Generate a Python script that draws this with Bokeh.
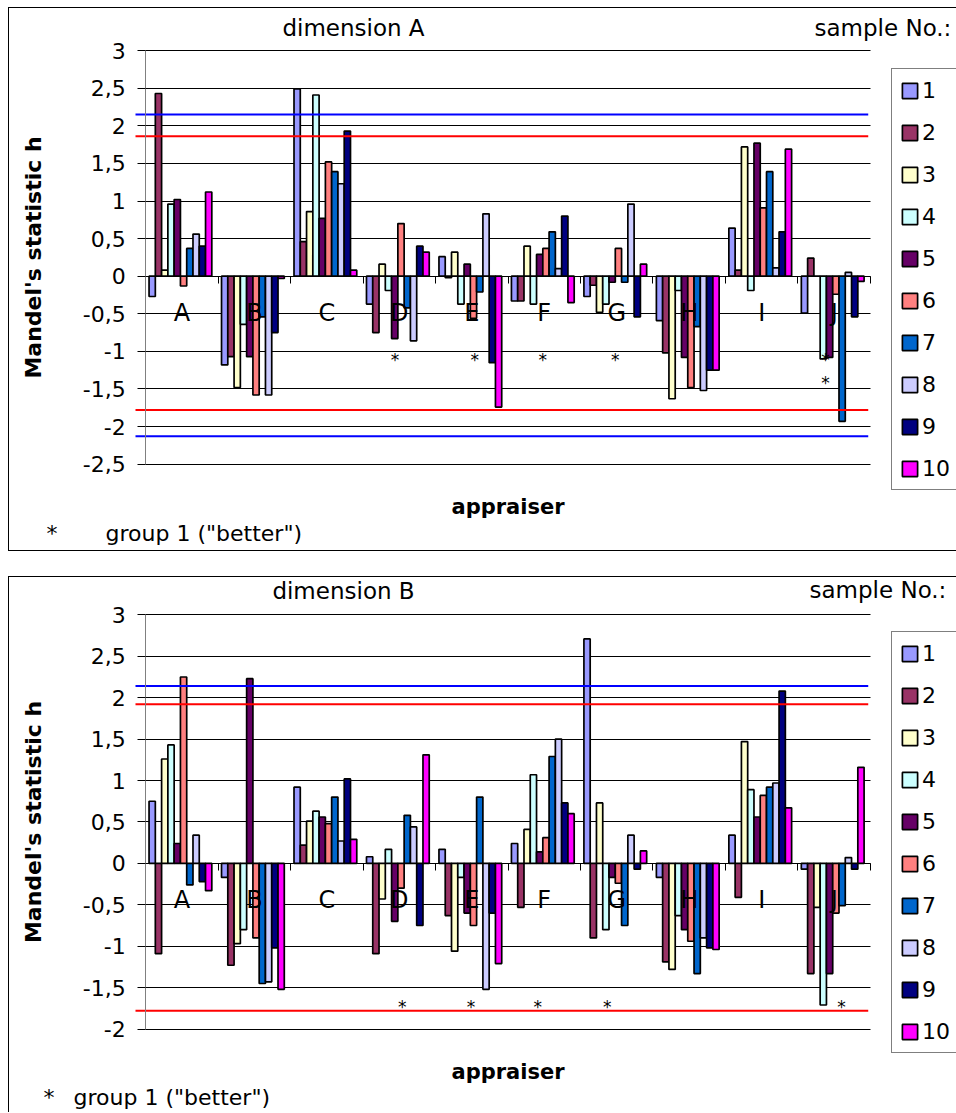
from bokeh.plotting import figure
from bokeh.models import (Range1d, LinearAxis, FixedTicker, Grid, Legend, LegendItem,
                          Label, CustomJSTickFormatter)
from bokeh.layouts import column
from bokeh.embed import file_html
from bokeh.resources import INLINE
from bokeh.core.properties import value

# ---------------------------------------------------------------- data
appraisers = ["A", "B", "C", "D", "E", "F", "G", "H", "I", "J"]
sample_labels = ["1", "2", "3", "4", "5", "6", "7", "8", "9", "10"]
sample_colors = ["#9999FF", "#993366", "#FFFFCC", "#CCFFFF", "#660066",
                 "#FF8080", "#0066CC", "#CCCCFF", "#000080", "#FF00FF"]

# Mandel's h, dimension A (one list per appraiser, samples 1..10)
dim_a_A = [-0.27, 2.43, 0.08, 0.96, 1.02, -0.13, 0.37, 0.56, 0.40, 1.12]
dim_a_B = [-1.18, -1.07, -1.48, -0.64, -1.07, -1.58, -0.54, -1.58, -0.75, -0.03]
dim_a_C = [2.49, 0.46, 0.86, 2.41, 0.77, 1.52, 1.39, 1.23, 1.93, 0.08]
dim_a_D = [-0.37, -0.75, 0.16, -0.19, -0.83, 0.70, -0.42, -0.86, 0.40, 0.32]
dim_a_E = [0.26, -0.02, 0.32, -0.37, 0.16, -0.56, -0.21, 0.83, -1.15, -1.74]
dim_a_F = [-0.33, -0.33, 0.40, -0.37, 0.29, 0.37, 0.59, 0.10, 0.80, -0.35]
dim_a_G = [-0.27, -0.12, -0.48, -0.37, -0.08, 0.37, -0.08, 0.96, -0.54, 0.16]
dim_a_H = [-0.59, -1.02, -1.63, -0.19, -1.08, -1.48, -0.67, -1.52, -1.25, -1.25]
dim_a_I = [0.64, 0.08, 1.72, -0.19, 1.77, 0.91, 1.39, 0.11, 0.59, 1.69]
dim_a_J = [-0.49, 0.24, 0.0, -1.10, -1.08, -0.24, -1.93, 0.05, -0.54, -0.07]

# Mandel's h, dimension B
dim_b_A = [0.75, -1.09, 1.26, 1.43, 0.24, 2.25, -0.26, 0.34, -0.22, -0.33]
dim_b_B = [-0.17, -1.23, -0.97, -0.80, 2.23, -0.90, -1.45, -1.43, -1.02, -1.52]
dim_b_C = [0.92, 0.22, 0.51, 0.63, 0.56, 0.48, 0.80, 0.27, 1.02, 0.29]
dim_b_D = [0.08, -1.09, -0.43, 0.17, -0.70, -0.30, 0.58, 0.44, -0.75, 1.31]
dim_b_E = [0.17, -0.63, -1.06, -0.17, -0.60, -0.75, 0.80, -1.52, -0.60, -1.21]
dim_b_F = [0.24, -0.53, 0.41, 1.07, 0.14, 0.31, 1.29, 1.50, 0.73, 0.60]
dim_b_G = [2.71, -0.90, 0.73, -0.80, -0.17, -0.24, -0.75, 0.34, -0.07, 0.15]
dim_b_H = [-0.17, -1.19, -1.28, -0.63, -0.80, -0.94, -1.33, -0.90, -1.02, -1.04]
dim_b_I = [0.34, -0.41, 1.47, 0.89, 0.56, 0.82, 0.92, 0.97, 2.08, 0.67]
dim_b_J = [-0.07, -1.33, -0.53, -1.71, -1.33, -0.60, -0.51, 0.07, -0.07, 1.16]

dim_a = [dim_a_A, dim_a_B, dim_a_C, dim_a_D, dim_a_E,
         dim_a_F, dim_a_G, dim_a_H, dim_a_I, dim_a_J]
dim_b = [dim_b_A, dim_b_B, dim_b_C, dim_b_D, dim_b_E,
         dim_b_F, dim_b_G, dim_b_H, dim_b_I, dim_b_J]

# y-axis ticks
ticks_a = [-2.5, -2, -1.5, -1, -0.5, 0, 0.5, 1, 1.5, 2, 2.5, 3]
ticks_b = [-2, -1.5, -1, -0.5, 0, 0.5, 1, 1.5, 2, 2.5, 3]

# critical values of h drawn as horizontal limit lines
limits_a_blue = [2.15, -2.13]
limits_a_red = [1.86, -1.78]
limits_b_blue = [2.14]
limits_b_red = [1.92, -1.78]

# "group 1" markers (position along the appraiser axis, h level)
stars_a_x = [3.44, 4.54, 5.48, 6.48, 9.38, 9.38]
stars_a_y = [-1.115, -1.115, -1.115, -1.115, -1.115, -1.42]
stars_b_x = [3.54, 4.49, 5.41, 6.37, 9.60]
stars_b_y = [-1.73, -1.73, -1.73, -1.73, -1.73]

# ---------------------------------------------------------------- styling
FONT = "DejaVu Sans"
BAR_W = 0.0866
SHIFT = -0.02
CANVAS_W = 947
X0_PX = 136          # pixel column of the value axis inside the canvas
PX_PER_CAT = 72.4    # width of one appraiser group in pixels
LIMIT_X0, LIMIT_X1 = -0.14, 9.97


def build_panel(table, ticks, blue, red, star_x, star_y,
                canvas_h, top_px, bottom_px, texts, legend_top, css):
    y_lo, y_hi = ticks[0], ticks[-1]
    ppu = (bottom_px - top_px) / (y_hi - y_lo)
    x_start = -X0_PX / PX_PER_CAT
    x_end = x_start + CANVAS_W / PX_PER_CAT
    y_end = y_hi + top_px / ppu
    y_start = y_lo - (canvas_h - bottom_px) / ppu

    p = figure(width=CANVAS_W, height=canvas_h,
               x_range=Range1d(x_start, x_end), y_range=Range1d(y_start, y_end),
               x_axis_type=None, y_axis_type=None,
               output_backend="svg", toolbar_location=None, min_border=0)
    p.outline_line_color = None
    p.background_fill_color = "white"
    p.border_fill_color = "white"
    p.styles = css

    yt = FixedTicker(ticks=ticks)
    p.add_layout(Grid(dimension=1, ticker=yt, bounds=(y_lo, y_hi),
                      cross_bounds=(0, len(appraisers)),
                      grid_line_color="black", grid_line_width=1))

    renderers = []
    for j in range(len(sample_labels)):
        xs = [k + 0.5 + SHIFT + (j - 4.5) * BAR_W for k in range(len(appraisers))]
        tops = [table[k][j] for k in range(len(appraisers))]
        r = p.vbar(x=xs, top=tops, bottom=0, width=BAR_W,
                   fill_color=sample_colors[j], line_color="black",
                   line_width=1.7)
        renderers.append(r)

    for vals, col in ((blue, "#0000FF"), (red, "#FF0000")):
        p.segment(x0=[LIMIT_X0] * len(vals), x1=[LIMIT_X1] * len(vals),
                  y0=vals, y1=vals, line_color=col, line_width=2)

    p.text(x=star_x, y=star_y, text=["*"] * len(star_x),
           text_font=value(FONT), text_font_size="17px",
           text_align="center", text_baseline="alphabetic",
           text_color="black")

    # value axis
    yax = LinearAxis(ticker=yt, fixed_location=0, bounds=(y_lo, y_hi),
                     formatter=CustomJSTickFormatter(
                         code="return String(tick).replace('.', ',')"),
                     axis_line_color="#808080", axis_line_width=1,
                     major_tick_line_color="black", major_tick_out=8,
                     major_tick_in=0, minor_tick_line_color=None,
                     major_label_standoff=12,
                     major_label_text_font=FONT,
                     major_label_text_font_size="22px",
                     major_label_text_color="black",
                     axis_label="Mandel's statistic h",
                     axis_label_standoff=34,
                     axis_label_text_font=FONT,
                     axis_label_text_font_style="bold",
                     axis_label_text_font_size="22px",
                     axis_label_text_color="black")
    p.add_layout(yax, "left")

    # category axis running along h = 0
    xt = FixedTicker(ticks=[k + 0.5 for k in range(len(appraisers))],
                     minor_ticks=list(range(len(appraisers) + 1)))
    xax = LinearAxis(ticker=xt, fixed_location=0, bounds=(0, len(appraisers)),
                     formatter=CustomJSTickFormatter(
                         args=dict(names=appraisers),
                         code="return names[Math.floor(tick)]"),
                     axis_line_color="black", axis_line_width=1,
                     major_tick_line_color=None, major_tick_in=0,
                     major_tick_out=0,
                     minor_tick_line_color="black", minor_tick_in=0,
                     minor_tick_out=7,
                     major_label_standoff=16,
                     major_label_text_font=FONT,
                     major_label_text_font_size="24px",
                     major_label_text_color="black")
    p.add_layout(xax, "below")

    title_ax = LinearAxis(ticker=FixedTicker(ticks=[]), fixed_location=y_lo,
                          bounds=(0, len(appraisers)),
                          axis_line_color=None, major_tick_line_color=None,
                          minor_tick_line_color=None, major_tick_out=0,
                          minor_tick_out=0, major_label_text_font_size="0px",
                          axis_label="appraiser", axis_label_standoff=30,
                          axis_label_text_font=FONT,
                          axis_label_text_font_style="bold",
                          axis_label_text_font_size="21px",
                          axis_label_text_color="black")
    p.add_layout(title_ax, "below")

    items = [LegendItem(label=s, renderers=[r])
             for s, r in zip(sample_labels, renderers)]
    legend_h = 420
    legend = Legend(items=items, location=(882, canvas_h - legend_top - legend_h),
                    margin=0, padding=8, spacing=16, glyph_width=19,
                    glyph_height=19, label_height=26, label_standoff=3,
                    label_text_font=FONT, label_text_font_size="22px",
                    label_text_color="black",
                    border_line_color="black", border_line_width=1,
                    background_fill_color="white", background_fill_alpha=1)
    p.add_layout(legend)

    for txt, x, y, align, size in texts:
        p.add_layout(Label(x=x, y=canvas_h - y, x_units="screen", y_units="screen",
                           text=txt, text_align=align, text_baseline="alphabetic",
                           text_font=FONT, text_font_size=size,
                           text_color="black"))
    return p


side_css = {"border-left": "1px solid black", "border-top": "1px solid black",
            "box-sizing": "content-box"}

# free text: (text, x px, baseline px from canvas top, align, size)
texts_a = [("dimension A", 344, 17, "center", "23px"),
           ("sample No.:", 805, 17, "left", "23px"),
           ("*", 37, 523, "left", "22px"),
           ('group 1 ("better")', 96, 523, "left", "22px")]
texts_b = [("dimension B", 334, 12, "center", "23px"),
           ("sample No.:", 800, 11, "left", "23px"),
           ("*", 34, 519, "left", "22px"),
           ('group 1 ("better")', 64, 519, "left", "22px")]

p1 = build_panel(dim_a, ticks_a, limits_a_blue, limits_a_red,
                 stars_a_x, stars_a_y, canvas_h=542, top_px=42, bottom_px=454,
                 texts=texts_a, legend_top=60,
                 css=dict(side_css, **{"border-bottom": "1px solid black"}))
p2 = build_panel(dim_b, ticks_b, limits_b_blue, limits_b_red,
                 stars_b_x, stars_b_y, canvas_h=535, top_px=37.3,
                 bottom_px=450.7, texts=texts_b, legend_top=55,
                 css=dict(side_css))

page = column(p1, p2, spacing=25, margin=(7, 0, 0, 8))

with open("out.html", "w") as f:
    f.write(file_html(page, INLINE))
